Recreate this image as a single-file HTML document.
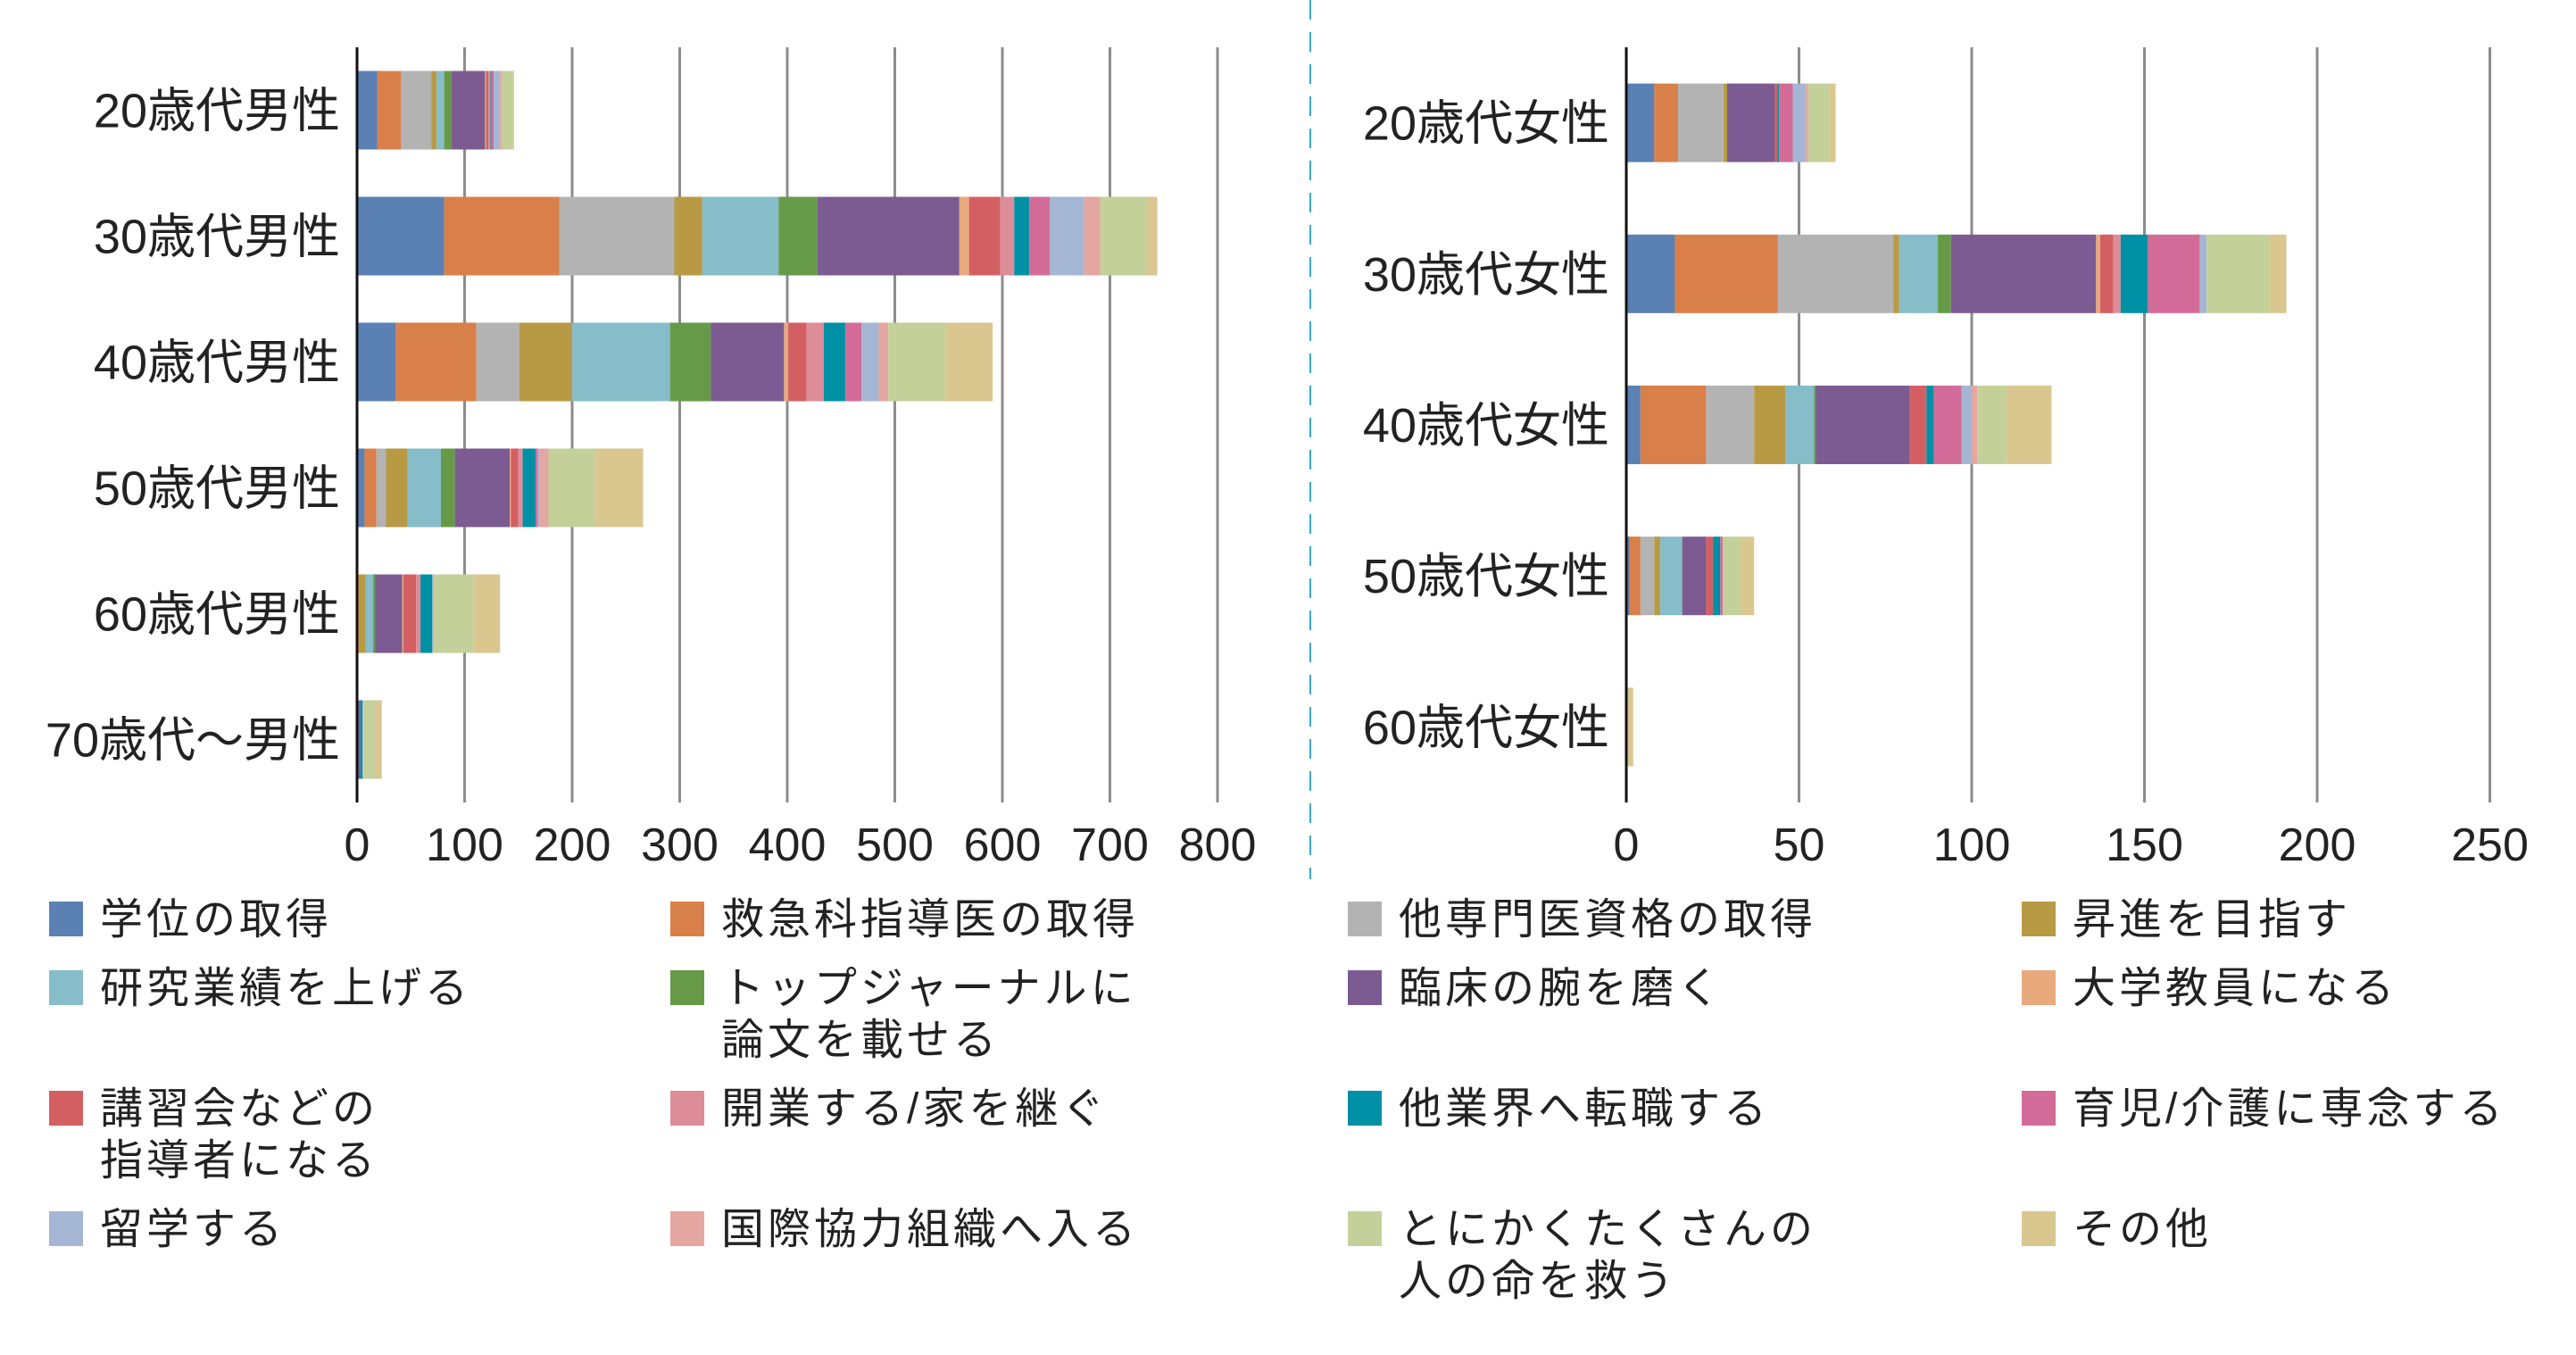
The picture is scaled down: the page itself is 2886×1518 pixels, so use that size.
<!DOCTYPE html>
<html><head><meta charset="utf-8">
<style>
html,body{margin:0;padding:0;background:#fff;}
body{width:2886px;height:1518px;overflow:hidden;position:relative;font-family:"Liberation Sans","Noto Sans CJK JP",sans-serif;color:#222;}
svg{position:absolute;left:0;top:0;}
.lg{position:absolute;font-size:48px;letter-spacing:4px;line-height:58px;}
.sw{position:absolute;width:38px;height:39px;}
</style></head><body>
<svg id="s" width="2886" height="1518" xmlns="http://www.w3.org/2000/svg"></svg>
<div id="leg"></div>
<script>
const C=["#5a80b4","#d9804a","#b3b3b3","#b89a44","#86bdc8","#669a48","#7b5b91","#e8aa7d","#d45f63","#dd8d98","#0090a5","#d36b98","#a4b6d3","#e4a6a0","#c4d09a","#d9c78f"];
const N=["学位の取得","救急科指導医の取得","他専門医資格の取得","昇進を目指す","研究業績を上げる","トップジャーナルに<br>論文を載せる","臨床の腕を磨く","大学教員になる","講習会などの<br>指導者になる","開業する/家を継ぐ","他業界へ転職する","育児/介護に専念する","留学する","国際協力組織へ入る","とにかくたくさんの<br>人の命を救う","その他"];
const L=[
[19,41,69,74,81,88,119,120,122,124,125,127,133,135,145,146],
[81,188,295,321,392,428,560,569,598,611,625,644,676,691,734,744],
[36,111,151,200,291,329,397,401,418,434,454,469,485,494,547,591],
[7,18,27,47,78,91,142,143,150,154,166,168,170,178,221,266],
[0,2,2,8,15,17,42,43,55,59,70,70,71,71,108,133],
[0,0,0,0,0,0,3,3,3,3,5,5,6,6,17,23]];
const R=[
[8.1,15,28.2,29.2,29.2,29.2,43,43,43.7,43.7,44.2,48.2,52,52.7,58.7,60.6],
[14.1,43.9,77.3,79,90.2,94,136,137.2,141,143.1,151,166,168,168,186.1,191.1],
[4.1,23.1,37,46,54.4,54.9,82.1,82.1,86.9,86.9,89,97.1,100,101.6,110,123.1],
[1,4.1,8.1,9.8,16.2,16.2,23.1,23.1,25.1,25.1,27.2,27.9,27.9,27.9,33.2,37],
[0,0,0,0,0,0,0,0,0,0,0,0,0,0,0,2]];
const LL=["20歳代男性","30歳代男性","40歳代男性","50歳代男性","60歳代男性","70歳代〜男性"];
const RL=["20歳代女性","30歳代女性","40歳代女性","50歳代女性","60歳代女性"];
let h="";
function panel(x0,sc,ticks,rows,data,labels,lx){
  const top=53,bot=899,rh=(bot-top)/rows;
  for(const t of ticks){const x=x0+t*sc; if(t>0)h+=`<line x1="${x}" y1="${top}" x2="${x}" y2="${bot}" stroke="#8c8c8c" stroke-width="3"/>`;
    h+=`<text x="${x}" y="964" font-size="52" text-anchor="middle" fill="#222">${t}</text>`;}
  data.forEach((d,i)=>{const cy=top+rh*(i+0.5);let p=0;
    d.forEach((e,k)=>{if(e>p){h+=`<rect x="${x0+p*sc}" y="${cy-44}" width="${(e-p)*sc}" height="88" fill="${C[k]}"/>`;}p=Math.max(p,e);});
    h+=`<text x="${lx}" y="${cy+19}" font-size="54" text-anchor="end" fill="#222">${labels[i]}</text>`;});
  h+=`<line x1="${x0}" y1="${top}" x2="${x0}" y2="${bot}" stroke="#111" stroke-width="3"/>`;
}
panel(400,1.205,[0,100,200,300,400,500,600,700,800],6,L,LL,381);
panel(1822,3.87,[0,50,100,150,200,250],5,R,RL,1803);
h+=`<line x1="1468" y1="0" x2="1468" y2="985" stroke="#3aa6d8" stroke-width="2" stroke-dasharray="22,14"/>`;
document.getElementById("s").innerHTML=h;
const cols=[55,751,1510,2265],rowsY=[1010,1087,1222,1357];
let g="";
N.forEach((n,i)=>{const x=cols[i%4],y=rowsY[Math.floor(i/4)];
 g+=`<div class="sw" style="left:${x}px;top:${y}px;background:${C[i]}"></div><div class="lg" style="left:${x+57}px;top:${y-8}px">${n}</div>`;});
document.getElementById("leg").innerHTML=g;
</script>
</body></html>
